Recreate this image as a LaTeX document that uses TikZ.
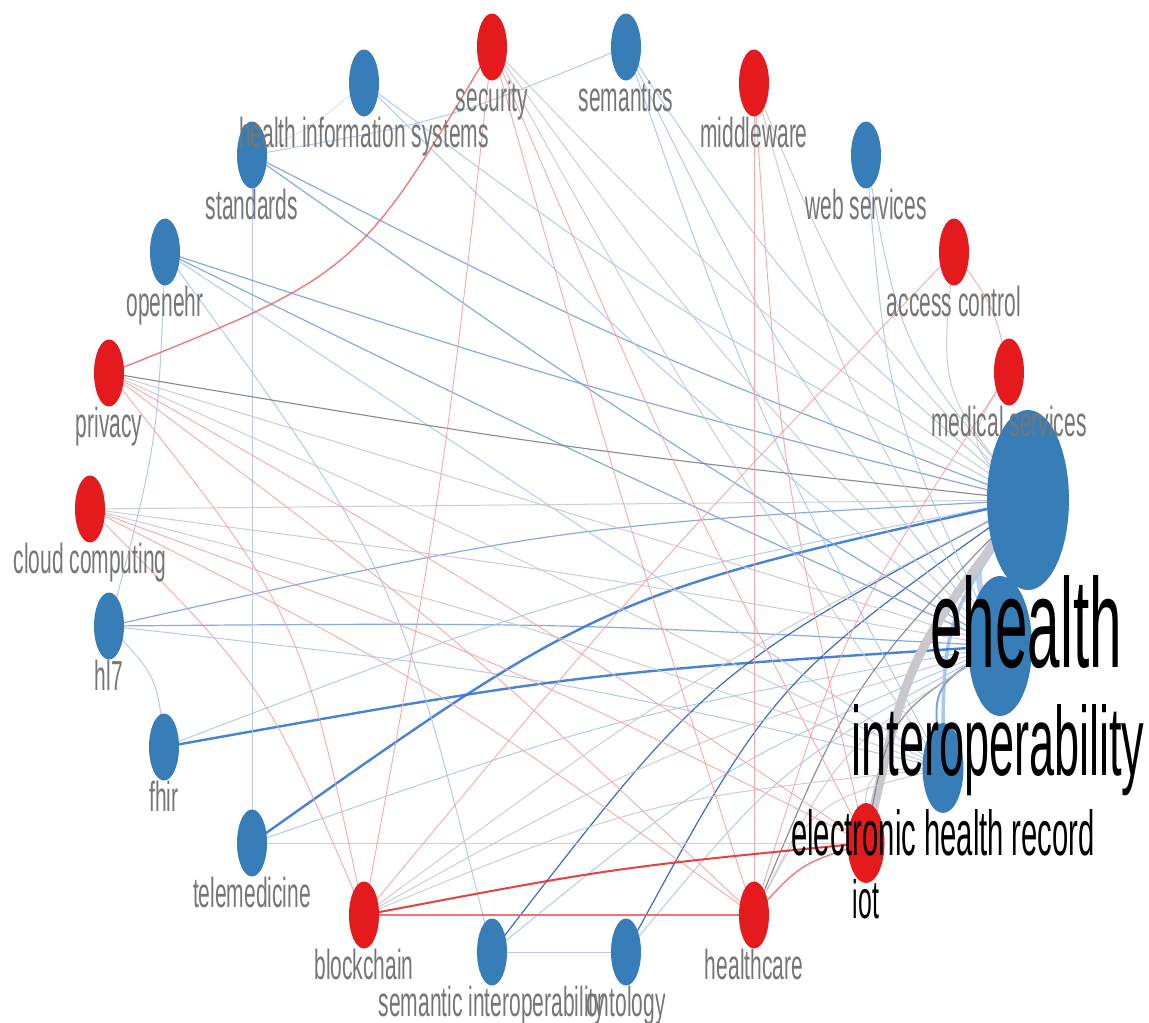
\documentclass[tikz,border=0pt]{standalone}
\usepackage{fontspec}
\setmainfont{Liberation Sans}
\newfontfamily\labfont[FakeStretch=0.5]{Liberation Sans}
\newfontfamily\bigfont[FakeStretch=0.46]{Liberation Sans}
\usetikzlibrary{shapes.geometric,calc}
\pgfdeclarelayer{bg}
\pgfsetlayers{bg,main}
\definecolor{nblue}{RGB}{55,126,184}
\definecolor{nred}{RGB}{228,26,28}
\definecolor{labgray}{RGB}{118,118,118}
\definecolor{bA}{RGB}{170,198,234}
\definecolor{bB}{RGB}{122,162,222}
\definecolor{bC}{RGB}{50,118,210}
\definecolor{bD}{RGB}{40,92,185}
\definecolor{gA}{RGB}{200,200,206}
\definecolor{gB}{RGB}{125,125,130}
\definecolor{rA}{RGB}{246,160,160}
\definecolor{rB}{RGB}{238,100,100}
\definecolor{rC}{RGB}{230,45,45}
\newcommand{\edg}[4][0.12]{\draw[#2] (#3.center) .. controls ($(#3.center)!0.5!(#4.center)!#1!(ctr)$) .. (#4.center);}
\tikzset{
  nd/.style={ellipse, inner sep=0pt, minimum width=30pt, minimum height=67pt, draw=none},
  bn/.style={nd, fill=nblue},
  rn/.style={nd, fill=nred},
  lab/.style={font=\labfont\fontsize{42}{42}\selectfont, text=labgray, anchor=base, inner sep=0pt},
  blab/.style={anchor=base, inner sep=0pt, text=black},
  eb1/.style={bA, line width=1pt, opacity=0.9},
  eb2/.style={bB, line width=1.2pt, opacity=0.9},
  eb3/.style={bC, line width=2.4pt, opacity=0.9},
  eb4/.style={bD, line width=1.2pt, opacity=0.9},
  eg1/.style={gA, line width=1pt, opacity=0.9},
  eg2/.style={gB, line width=1.1pt, opacity=0.9},
  er1/.style={rA, line width=0.9pt, opacity=0.9},
  er2/.style={rB, line width=1.3pt, opacity=0.9},
  er3/.style={rC, line width=2pt, opacity=0.9},
}
\begin{document}
\begin{tikzpicture}[x=1pt,y=-1pt]
\useasboundingbox (0,0) rectangle (1149,1023);
\coordinate (ctr) at (559,500);
% nodes
\node[rn] (sec) at (492,47) {};
\node[bn] (sem) at (626,47) {};
\node[rn] (mid) at (754,83) {};
\node[bn] (his) at (364,83) {};
\node[bn] (st) at (252,155) {};
\node[bn] (web) at (866,155) {};
\node[bn] (oe) at (165,252) {};
\node[rn] (acc) at (954,252) {};
\node[rn] (pr) at (109,373) {};
\node[rn] (med) at (1009,372) {};
\node[rn] (cc) at (90,509) {};
\node[bn] (hl) at (109,626) {};
\node[bn] (fh) at (164,747) {};
\node[bn] (tm) at (252,843) {};
\node[rn] (bc) at (364,915) {};
\node[rn] (hc) at (754,915) {};
\node[bn] (si) at (492,952) {};
\node[bn] (ont) at (626,952) {};
\node[bn, minimum width=82pt, minimum height=180pt] (eh) at (1028,500) {};
\node[bn, minimum width=64pt, minimum height=140pt] (io) at (1000,646) {};
\node[bn, minimum width=41pt, minimum height=90pt] (ehr) at (943,768) {};
\node[rn, minimum width=37pt, minimum height=80pt] (iot) at (866,843) {};
% edges
\begin{pgfonlayer}{bg}
\fill[white] (0,0) rectangle (1149,1023);
% blue-blue
\edg[0.1]{bA!80, line width=6pt}{eh}{io}
\edg[0.1]{bA, line width=3.5pt}{eh}{ehr}
\edg[0.1]{bB, line width=2pt}{io}{ehr}
\edg[0.6]{eb2}{eh}{hl}
\edg[0.1]{eb2}{io}{hl}
\edg{eb1}{ehr}{hl}
\edg[0.3]{eb1}{eh}{fh}
\edg[0.12]{eb3}{io}{fh}
\edg[0.45]{eb3}{eh}{tm}
\edg{eb1}{io}{tm}
\edg[0.25]{eb4}{eh}{si}
\edg{eb1}{io}{si}
\edg[0.2]{eb4}{eh}{ont}
\edg{eb1}{io}{ont}
\edg[0]{eb1}{si}{ont}
\edg{eb2}{eh}{st}
\edg{eb2}{io}{st}
\edg[0]{eb1}{st}{tm}
\edg{eb2}{oe}{eh}
\edg{eb2}{oe}{io}
\edg{eb1}{oe}{ehr}
\edg[0.05]{eb1}{oe}{hl}
\edg[0.05]{eb1}{hl}{fh}
\edg[0.3]{eb1}{oe}{si}
\edg{eb1}{his}{eh}
\edg{eb1}{his}{io}
\edg[0.02]{gA}{his}{st}
\edg[0.05]{eb1}{sem}{st}
\edg{eb1}{sem}{eh}
\edg{eb1}{sem}{io}
\edg{eb1}{sem}{ehr}
\edg{eb1}{web}{eh}
\edg{eb1}{web}{io}
% gray
\edg[0.1]{gA, line width=9pt}{eh}{iot}
\edg{eg2}{io}{iot}
\edg{eg1}{ehr}{iot}
\edg[0.2]{eg2}{eh}{pr}
\edg{eg1}{io}{pr}
\edg{eg1}{ehr}{pr}
\edg{eg1}{eh}{cc}
\edg{eg1}{io}{cc}
\edg{eg1}{ehr}{cc}
\edg{eg1}{eh}{sec}
\edg{eg1}{io}{sec}
\edg{eg1}{ehr}{sec}
\edg{eg1}{eh}{mid}
\edg{eg1}{io}{mid}
\edg{eg1}{eh}{acc}
\edg{eg1}{eh}{med}
\edg{eg2}{eh}{hc}
\edg{eg1}{io}{hc}
\edg{eg1}{ehr}{hc}
\edg{eg1}{eh}{bc}
\edg{eg1}{io}{bc}
\edg{eg1}{ehr}{bc}
\edg[0]{eg1}{tm}{iot}
% red
\edg[0.22]{er2}{pr}{sec}
\edg{er1}{pr}{iot}
\edg{er1}{pr}{hc}
\edg[0.2]{er1}{pr}{bc}
\edg{er1}{cc}{iot}
\edg{er1}{cc}{hc}
\edg{er1}{cc}{bc}
\edg{er1}{sec}{bc}
\edg{er1}{sec}{hc}
\edg{er1}{sec}{iot}
\edg[0]{er1}{mid}{hc}
\edg{er1}{mid}{iot}
\edg[-0.03]{er1}{acc}{med}
\edg{er1}{acc}{bc}
\edg{er1}{med}{hc}
\edg[0.03]{er3}{bc}{iot}
\edg[0]{er2}{bc}{hc}
\edg[0.04]{er2}{hc}{iot}
\end{pgfonlayer}
% labels
\node[lab] (secL) at (492,111) {security};
\node[lab] (semL) at (626,111) {semantics};
\node[lab] (midL) at (754,147) {middleware};
\node[lab] (hisL) at (364,147) {health information systems};
\node[lab] (stL) at (252,219) {standards};
\node[lab] (webL) at (866,219) {web services};
\node[lab] (oeL) at (165,316) {openehr};
\node[lab] (accL) at (954,316) {access control};
\node[lab] (prL) at (109,437) {privacy};
\node[lab] (medL) at (1009,436) {medical services};
\node[lab] (ccL) at (90,573) {cloud computing};
\node[lab] (hlL) at (109,690) {hl7};
\node[lab] (fhL) at (164,811) {fhir};
\node[lab] (tmL) at (252,907) {telemedicine};
\node[lab] (bcL) at (364,979) {blockchain};
\node[lab] (hcL) at (754,979) {healthcare};
\node[lab] (siL) at (492,1016) {semantic interoperability};
\node[lab] (ontL) at (626,1016) {ontology};
\node[blab, font=\bigfont\fontsize{127}{127}\selectfont] (ehL) at (1026,667) {ehealth};
\node[blab, font=\bigfont\fontsize{98}{98}\selectfont] (ioL) at (998,775) {interoperability};
\node[blab, font=\bigfont\fontsize{63.5}{63.5}\selectfont] (ehrL) at (943,855) {electronic health record};
\node[blab, font=\bigfont\fontsize{54}{54}\selectfont] (iotL) at (866,918) {iot};
\end{tikzpicture}
\end{document}
